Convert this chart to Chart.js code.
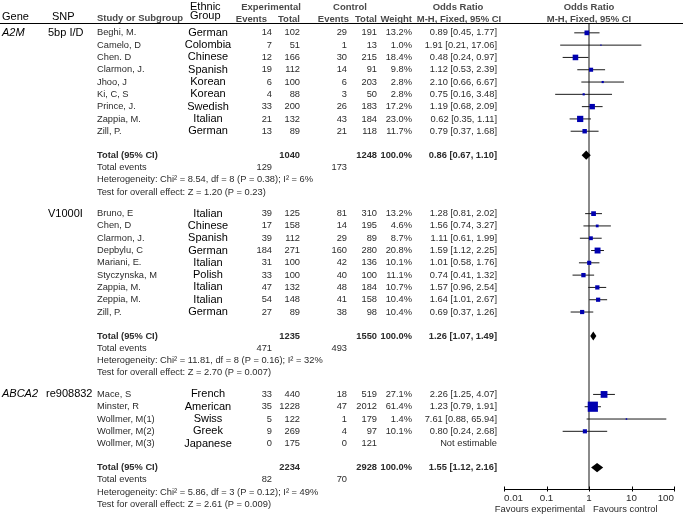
<!DOCTYPE html>
<html><head><meta charset="utf-8">
<script src="https://cdn.jsdelivr.net/npm/chart.js@4.4.1/dist/chart.umd.min.js"></script>
<style>html,body{margin:0;padding:0;background:#fff;}#wrap{width:686px;height:518px;position:relative;}</style>
</head><body><div id="wrap"><canvas id="c" width="686" height="518"></canvas></div>
<script>
// ---------- DATA ----------
const groupGenes = ["A2M", "", "ABCA2"];
const groupSNPs = ["5bp I/D", "V1000I", "re908832"];
const studyGroup = [0,0,0,0,0,0,0,0,0, 1,1,1,1,1,1,1,1,1, 2,2,2,2,2];
const studyNames = ["Beghi, M.","Camelo, D","Chen. D","Clarmon, J.","Jhoo, J","Ki, C, S","Prince, J.","Zappia, M.","Zill, P.",
  "Bruno, E","Chen, D","Clarmon, J.","Depbylu, C","Mariani, E.","Styczynska, M","Zappia, M.","Zeppia, M.","Zill, P.",
  "Mace, S","Minster, R","Wollmer, M(1)","Wollmer, M(2)","Wollmer, M(3)"];
const ethnicGroups = ["German","Colombia","Chinese","Spanish","Korean","Korean","Swedish","Italian","German",
  "Italian","Chinese","Spanish","German","Italian","Polish","Italian","Italian","German",
  "French","American","Swiss","Greek","Japanese"];
const expEvents = [14,7,12,19,6,4,33,21,13, 39,17,39,184,31,33,47,54,27, 33,35,5,9,0];
const expTotals = [102,51,166,112,100,88,200,132,89, 125,158,112,271,100,100,132,148,89, 440,1228,122,269,175];
const ctrlEvents = [29,1,30,14,6,3,26,43,21, 81,14,29,160,42,40,48,41,38, 18,47,1,4,0];
const ctrlTotals = [191,13,215,91,203,50,183,184,118, 310,195,89,280,136,100,184,158,98, 519,2012,179,97,121];
const weights = [13.2,1.0,18.4,9.8,2.8,2.8,17.2,23.0,11.7, 13.2,4.6,8.7,20.8,10.1,11.1,10.7,10.4,10.4, 27.1,61.4,1.4,10.1,null];
const oddsRatios = [0.89,1.91,0.48,1.12,2.10,0.75,1.19,0.62,0.79, 1.28,1.56,1.11,1.59,1.01,0.74,1.57,1.64,0.69, 2.26,1.23,7.61,0.80,null];
const ciLower = [0.45,0.21,0.24,0.53,0.66,0.16,0.68,0.35,0.37, 0.81,0.74,0.61,1.12,0.58,0.41,0.96,1.01,0.37, 1.25,0.79,0.88,0.24,null];
const ciUpper = [1.77,17.06,0.97,2.39,6.67,3.48,2.09,1.11,1.68, 2.02,3.27,1.99,2.25,1.76,1.32,2.54,2.67,1.26, 4.07,1.91,65.94,2.68,null];

const totalExp = [1040, 1235, 2234];
const totalCtrl = [1248, 1550, 2928];
const totalOR = [0.86, 1.26, 1.55];
const totalLower = [0.67, 1.07, 1.12];
const totalUpper = [1.10, 1.49, 2.16];
const totalExpEvents = [129, 471, 82];
const totalCtrlEvents = [173, 493, 70];
const heterogeneity = [
  "Heterogeneity: Chi\u00B2 = 8.54, df = 8 (P = 0.38); I\u00B2 = 6%",
  "Heterogeneity: Chi\u00B2 = 11.81, df = 8 (P = 0.16); I\u00B2 = 32%",
  "Heterogeneity: Chi\u00B2 = 5.86, df = 3 (P = 0.12); I\u00B2 = 49%"];
const overallTest = [
  "Test for overall effect: Z = 1.20 (P = 0.23)",
  "Test for overall effect: Z = 2.70 (P = 0.007)",
  "Test for overall effect: Z = 2.61 (P = 0.009)"];
const xTickValues = [0.01, 0.1, 1, 10, 100];
const xTickLabels = ["0.01", "0.1", "1", "10", "100"];

// ---------- LAYOUT (row units) ----------
const FIRST = 0.8, GAP_TOTAL = 1.95, GAP_GROUP = 1.75, Y_MAX = 37.89;
const studyRow = [], totalRow = [], groupFirstRow = [];
(function(){
  let u = FIRST;
  for (let g = 0; g < groupSNPs.length; g++) {
    groupFirstRow[g] = u;
    const idx = studyGroup.map((v,i)=>v===g?i:-1).filter(i=>i>=0);
    idx.forEach((i,k)=>{ studyRow[i] = u; if (k < idx.length-1) u += 1; });
    u += GAP_TOTAL; totalRow[g] = u;
    u += 3 + GAP_GROUP;
  }
})();

const fmt2 = v => v.toFixed(2);
const orText = (o,l,h) => fmt2(o) + " [" + fmt2(l) + ", " + fmt2(h) + "]";

// ---------- DATASETS ----------
const datasets = [];
datasets.push({ data:[{x:1,y:0},{x:1,y:Y_MAX}], showLine:true, borderColor:'#8a8a8a', borderWidth:2, pointRadius:0, order:5 });
studyNames.forEach((n,i)=>{
  if (oddsRatios[i] == null) return;
  datasets.push({ data:[{x:ciLower[i],y:studyRow[i]},{x:ciUpper[i],y:studyRow[i]}], showLine:true,
    borderColor:'#1a1a1a', borderWidth:1, pointRadius:0, order:3 });
});
const sqIdx = studyNames.map((n,i)=>i).filter(i=>oddsRatios[i]!=null);
datasets.push({ data: sqIdx.map(i=>({x:oddsRatios[i], y:studyRow[i]})), pointStyle:'rect',
  pointRadius: sqIdx.map(i=>Math.max(1.2, 1.3*Math.sqrt(weights[i]))/Math.SQRT2),
  backgroundColor:'#0000b0', borderColor:'#0000b0', borderWidth:0, order:1 });

const T = '#2b2b2b', H = '#4a4a4a';
const FAM = '"Liberation Sans", Arial, sans-serif';
const F = (s,b) => (b?'bold ':'') + s + 'px ' + FAM;
const BODY = 9.3, HEAD = 9.5;
const COL = { study:97, ethnic:208, expEv:272, expTot:300, ctlEv:347, ctlTot:377, weight:412, or:497 };

const tablePlugin = {
  id:'table',
  afterDatasetsDraw(chart){
    const c = chart.ctx, xs = chart.scales.x, ys = chart.scales.y;
    c.save(); c.fillStyle = '#000';
    totalOR.forEach((o,g)=>{
      const y = ys.getPixelForValue(totalRow[g]), h = 4.6;
      c.beginPath();
      c.moveTo(xs.getPixelForValue(totalLower[g]), y);
      c.lineTo(xs.getPixelForValue(o), y - h);
      c.lineTo(xs.getPixelForValue(totalUpper[g]), y);
      c.lineTo(xs.getPixelForValue(o), y + h);
      c.closePath(); c.fill();
    });
    // axis tick marks straddling the axis line
    const yb = Math.round(xs.top) + 0.5;
    c.strokeStyle = '#000'; c.lineWidth = 1;
    xTickValues.forEach(v=>{
      const x = Math.round(xs.getPixelForValue(v)) + 0.5;
      c.beginPath(); c.moveTo(x, yb - 3); c.lineTo(x, yb + 2); c.stroke();
    });
    c.restore();
  },
  afterDraw(chart){
    const c = chart.ctx, xs = chart.scales.x, ys = chart.scales.y;
    const Y = u => ys.getPixelForValue(u);
    const t = (s,x,y,al,font,col) => { c.font = font; c.fillStyle = col; c.textAlign = al; c.textBaseline = 'middle'; c.fillText(s,x,y); };
    c.save();
    c.strokeStyle = '#000'; c.lineWidth = 1;
    c.beginPath(); c.moveTo(0, 23.5); c.lineTo(683, 23.5); c.stroke();
    t("Gene", 2, 17, 'left', F(11), '#000');
    t("SNP", 52, 17, 'left', F(11), '#000');
    t("Study or Subgroup", COL.study, 18, 'left', F(HEAD,true), H);
    t("Ethnic", 190, 7, 'left', F(11), '#000');
    t("Group", 190, 16, 'left', F(11), '#000');
    t("Experimental", 271, 7, 'center', F(HEAD,true), H);
    t("Control", 350, 7, 'center', F(HEAD,true), H);
    t("Events", COL.expEv - 5, 19, 'right', F(HEAD,true), H);
    t("Total", COL.expTot, 19, 'right', F(HEAD,true), H);
    t("Events", COL.ctlEv + 2, 19, 'right', F(HEAD,true), H);
    t("Total", COL.ctlTot, 19, 'right', F(HEAD,true), H);
    t("Weight", COL.weight, 19, 'right', F(HEAD,true), H);
    t("Odds Ratio", 458, 7, 'center', F(HEAD,true), H);
    t("M-H, Fixed, 95% CI", 459, 19, 'center', F(HEAD,true), H);
    t("Odds Ratio", 589, 7, 'center', F(HEAD,true), H);
    t("M-H, Fixed, 95% CI", 589, 19, 'center', F(HEAD,true), H);
    groupSNPs.forEach((s,g)=>{
      const y = Y(groupFirstRow[g]);
      if (groupGenes[g]) t(groupGenes[g], 2, y, 'left', 'italic ' + F(11), '#000');
      t(s, g===2 ? 46 : 48, y, 'left', F(11), '#000');
    });
    studyNames.forEach((n,i)=>{
      const y = Y(studyRow[i]);
      t(n, COL.study, y, 'left', F(BODY), T);
      t(ethnicGroups[i], COL.ethnic, y, 'center', F(11), '#000');
      t(String(expEvents[i]), COL.expEv, y, 'right', F(BODY), T);
      t(String(expTotals[i]), COL.expTot, y, 'right', F(BODY), T);
      t(String(ctrlEvents[i]), COL.ctlEv, y, 'right', F(BODY), T);
      t(String(ctrlTotals[i]), COL.ctlTot, y, 'right', F(BODY), T);
      if (weights[i] != null) t(weights[i].toFixed(1) + "%", COL.weight, y, 'right', F(BODY), T);
      t(oddsRatios[i] != null ? orText(oddsRatios[i], ciLower[i], ciUpper[i]) : "Not estimable", COL.or, y, 'right', F(BODY), T);
    });
    totalOR.forEach((o,g)=>{
      const y0 = Y(totalRow[g]), y1 = Y(totalRow[g]+1), y2 = Y(totalRow[g]+2), y3 = Y(totalRow[g]+3);
      t("Total (95% CI)", COL.study, y0, 'left', F(BODY,true), T);
      t(String(totalExp[g]), COL.expTot, y0, 'right', F(BODY,true), T);
      t(String(totalCtrl[g]), COL.ctlTot, y0, 'right', F(BODY,true), T);
      t("100.0%", COL.weight, y0, 'right', F(BODY,true), T);
      t(orText(o, totalLower[g], totalUpper[g]), COL.or, y0, 'right', F(BODY,true), T);
      t("Total events", COL.study, y1, 'left', F(BODY), T);
      t(String(totalExpEvents[g]), COL.expEv, y1, 'right', F(BODY), T);
      t(String(totalCtrlEvents[g]), COL.ctlEv, y1, 'right', F(BODY), T);
      t(heterogeneity[g], COL.study, y2, 'left', F(BODY), T);
      t(overallTest[g], COL.study, y3, 'left', F(BODY), T);
    });
    const x1 = xs.getPixelForValue(1);
    t("Favours experimental", x1 - 4, 509, 'right', F(9.4), T);
    t("Favours control", x1 + 4, 509, 'left', F(9.4), T);
    c.restore();
  }
};

new Chart(document.getElementById('c'), {
  type:'scatter',
  data:{ datasets },
  options:{
    responsive:false, animation:false, devicePixelRatio:1,
    layout:{ padding:{ left:504, right:12, top:23, bottom:0 } },
    plugins:{ legend:{display:false}, tooltip:{enabled:false} },
    scales:{
      x:{ type:'logarithmic', min:0.01, max:100,
        afterBuildTicks: s => { s.ticks = xTickValues.map(v=>({value:v})); },
        afterFit: s => { s.height = 29; },
        ticks:{ callback:(v,i)=>xTickLabels[i], color:T, font:{size:9.8, family:FAM}, padding:3, align:'inner', maxRotation:0, autoSkip:false },
        grid:{ display:true, drawOnChartArea:false, drawTicks:false, color:'#000' },
        border:{ display:true, color:'#000', width:1 } },
      y:{ type:'linear', display:false, reverse:true, min:0, max:Y_MAX }
    }
  },
  plugins:[tablePlugin]
});
</script></body></html>
